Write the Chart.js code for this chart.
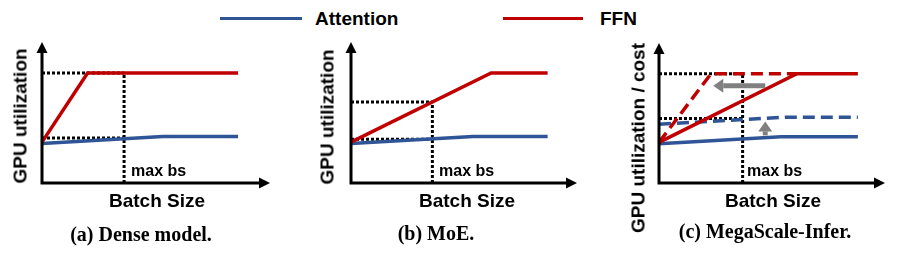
<!DOCTYPE html>
<html>
<head>
<meta charset="utf-8">
<script src="https://cdn.jsdelivr.net/npm/chart.js@4"></script>
<style>
  body { margin:0; background:#fff; }
  #fig { position:relative; width:897px; height:257px; overflow:hidden; font-family:"Liberation Sans", Arial, sans-serif; }
  canvas { position:absolute; top:0; }
  .t { position:absolute; transform:translate(-50%,-50%); white-space:nowrap; line-height:1; font-weight:bold; color:#000; }
  .ax { font-size:19px; }
  .mb { font-size:16px; transform:translate(0,-50%); }
  .cap { font-family:"Liberation Serif", "Times New Roman", serif; font-size:20px; }
  .yl { font-size:19px; transform:translate(-50%,-50%) rotate(-90deg); }
  .lg { position:absolute; height:3px; top:17px; }
</style>
</head>
<body>
<div id="fig">
  <div class="lg" style="left:220px;width:82px;background:#2F5597"></div>
  <div class="t ax" style="left:315px;top:18px;transform:translate(0,-50%)">Attention</div>
  <div class="lg" style="left:503px;width:80px;background:#C00000"></div>
  <div class="t ax" style="left:600px;top:18px;transform:translate(0,-50%)">FFN</div>

  <canvas id="c0" width="300" height="257" style="left:0px"></canvas>
  <canvas id="c1" width="300" height="257" style="left:300px"></canvas>
  <canvas id="c2" width="297" height="257" style="left:600px"></canvas>

  <div class="t yl" style="left:20px;top:116px">GPU utilization</div>
  <div class="t yl" style="left:327px;top:117px">GPU utilization</div>
  <div class="t yl" style="left:638px;top:138px">GPU utilization / cost</div>

  <div class="t mb" style="left:131px;top:171px">max bs</div>
  <div class="t mb" style="left:439px;top:171px">max bs</div>
  <div class="t mb" style="left:747px;top:171px">max bs</div>

  <div class="t ax" style="left:157px;top:200px">Batch Size</div>
  <div class="t ax" style="left:467px;top:200px">Batch Size</div>
  <div class="t ax" style="left:773px;top:200px">Batch Size</div>

  <div class="t cap" style="left:141px;top:234px">(a) Dense model.</div>
  <div class="t cap" style="left:436px;top:233px">(b) MoE.</div>
  <div class="t cap" style="left:765px;top:231px">(c) MegaScale-Infer.</div>
</div>
<script>
// conceptual units: batch size 0..100, utilization 0..100
var attnA = [{x:0,y:28},{x:53,y:33},{x:86,y:33}];
var ffnA  = [{x:0,y:29},{x:20,y:78},{x:86,y:78}];
var attnB = [{x:0,y:28},{x:54,y:33},{x:87,y:33}];
var ffnB  = [{x:0,y:29},{x:62,y:78},{x:87,y:78}];
var attnC = [{x:0,y:28},{x:54,y:33},{x:88,y:33}];
var ffnC  = [{x:0,y:29},{x:61,y:78},{x:88,y:78}];
var attnCNew = [{x:0,y:42},{x:56,y:47},{x:88,y:47}];
var ffnCNew  = [{x:0,y:29},{x:23,y:78},{x:61,y:78}];

var maxBs   = [36, 36, 37];
var levels  = [[78, 32], [57.5, 31], [78, 46]];   // dotted guide levels
var shiftsC = [[{x:47,y:69.5},{x:24,y:69.5}], [{x:47,y:34},{x:47,y:44}]];

var BLUE = '#2F5597', RED = '#C00000';

var axisArrows = {
  id: 'axisArrows',
  afterDatasetsDraw: function(chart) {
    var ctx = chart.ctx, a = chart.chartArea;
    ctx.save();
    ctx.strokeStyle = '#000'; ctx.fillStyle = '#000'; ctx.lineWidth = 3;
    ctx.beginPath();
    ctx.moveTo(a.left, a.bottom + 1.5); ctx.lineTo(a.left, a.top + 8);
    ctx.moveTo(a.left - 1.5, a.bottom); ctx.lineTo(a.right - 8, a.bottom);
    ctx.stroke();
    ctx.beginPath();
    ctx.moveTo(a.left, a.top); ctx.lineTo(a.left - 5.5, a.top + 11); ctx.lineTo(a.left + 5.5, a.top + 11);
    ctx.fill();
    ctx.beginPath();
    ctx.moveTo(a.right, a.bottom); ctx.lineTo(a.right - 11, a.bottom - 5.5); ctx.lineTo(a.right - 11, a.bottom + 5.5);
    ctx.fill();

    var shifts = chart.options.plugins.axisArrows.shifts || [];
    var xs = chart.scales.x, ys = chart.scales.y;
    ctx.strokeStyle = '#808080'; ctx.fillStyle = '#808080'; ctx.lineWidth = 5;
    shifts.forEach(function(s) {
      var x0 = xs.getPixelForValue(s[0].x), y0 = ys.getPixelForValue(s[0].y);
      var x1 = xs.getPixelForValue(s[1].x), y1 = ys.getPixelForValue(s[1].y);
      var ang = Math.atan2(y1 - y0, x1 - x0), hl = 10, hw = 7;
      var bx = x1 - Math.cos(ang) * hl, by = y1 - Math.sin(ang) * hl;
      ctx.beginPath(); ctx.moveTo(x0, y0); ctx.lineTo(bx, by); ctx.stroke();
      ctx.beginPath();
      ctx.moveTo(x1, y1);
      ctx.lineTo(bx + Math.sin(ang) * hw, by - Math.cos(ang) * hw);
      ctx.lineTo(bx - Math.sin(ang) * hw, by + Math.cos(ang) * hw);
      ctx.fill();
    });
    ctx.restore();
  }
};

function line(data, color, dashed, order) {
  return { data: data, borderColor: color, borderWidth: 3.5, borderDash: dashed ? [12, 6] : [],
           pointRadius: 0, tension: 0, fill: false, clip: false, order: order };
}
function dotted(i) {
  var mb = maxBs[i], ds = [];
  ds.push({ data: [{x:mb,y:0},{x:mb,y:levels[i][0]}] });
  levels[i].forEach(function(l) { ds.push({ data: [{x:0,y:l},{x:mb,y:l}] }); });
  return ds.map(function(d) {
    d.borderColor = '#000'; d.borderWidth = 3; d.borderDash = [3, 2];
    d.pointRadius = 0; d.clip = false; d.order = 10;
    return d;
  });
}

var panels = [
  { id:'c0', pad:{left:42, right:30, top:42, bottom:74}, sets:[line(attnA, BLUE, false, 2), line(ffnA, RED, false, 1)] },
  { id:'c1', pad:{left:51, right:23, top:42, bottom:74}, sets:[line(attnB, BLUE, false, 2), line(ffnB, RED, false, 1)] },
  { id:'c2', pad:{left:59, right:12, top:43, bottom:74}, sets:[line(attnC, BLUE, false, 2), line(ffnC, RED, false, 1),
                                                             line(attnCNew, BLUE, true, 3), line(ffnCNew, RED, true, 1)], shifts: shiftsC }
];

panels.forEach(function(p, i) {
  new Chart(document.getElementById(p.id), {
    type: 'line',
    data: { datasets: p.sets.concat(dotted(i)) },
    options: {
      responsive: false,
      animation: false,
      layout: { padding: p.pad },
      scales: {
        x: { type: 'linear', min: 0, max: 100, display: false },
        y: { type: 'linear', min: 0, max: 100, display: false }
      },
      plugins: { legend: { display: false }, tooltip: { enabled: false }, axisArrows: { shifts: p.shifts || [] } }
    },
    plugins: [axisArrows]
  });
});
</script>
</body>
</html>
